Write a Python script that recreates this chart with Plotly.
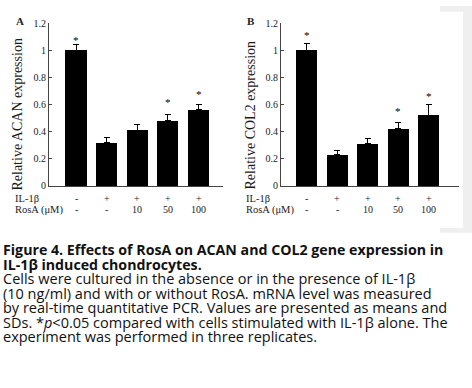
import plotly.graph_objects as go

W, H = 472, 388

# ---- data ----
positions = [1, 2, 3, 4, 5]
il1b_labels = ["-", "+", "+", "+", "+"]
rosa_labels = ["-", "-", "10", "50", "100"]
y_ticks = [0, 0.2, 0.4, 0.6, 0.8, 1.0, 1.2]
y_tick_text = ["0", "0.2", "0.4", "0.6", "0.8", "1", "1.2"]

acan_mean = [1.00, 0.32, 0.41, 0.48, 0.56]
acan_sd = [0.04, 0.035, 0.04, 0.05, 0.04]
acan_star_y = [1.075, None, None, 0.62, 0.68]

col2_mean = [1.00, 0.23, 0.31, 0.42, 0.52]
col2_sd = [0.05, 0.03, 0.04, 0.05, 0.08]
col2_star_y = [1.11, None, None, 0.555, 0.665]

caption_bold = [
    "Figure 4. Effects of RosA on ACAN and COL2 gene expression in",
    "IL-1β induced chondrocytes.",
]
caption_body = [
    "Cells were cultured in the absence or in the presence of IL-1β",
    "(10 ng/ml) and with or without RosA. mRNA level was measured",
    "by real-time quantitative PCR. Values are presented as means and",
    "SDs. *<i>p</i><0.05 compared with cells stimulated with IL-1β alone. The",
    "experiment was performed in three replicates.",
]

SERIF = "Liberation Serif, Times New Roman, serif"
SANS = "Open Sans, Noto Sans, sans-serif"

def px(x):
    return x / W

def py(y):
    return 1 - y / H

fig = go.Figure()

panels = [
    dict(mean=acan_mean, sd=acan_sd, star=acan_star_y, xa="x", ya="y",
         dom=[px(49), px(223)], rng=[0.118, 5.80], width=0.69,
         title="Relative ACAN expression", tx=18, ty=112, letter="A", lx=20, ly=15,
         lab_x=13),
    dict(mean=col2_mean, sd=col2_sd, star=col2_star_y, xa="x2", ya="y2",
         dom=[px(281), px(458.7)], rng=[0.157, 5.98], width=0.70,
         title="Relative COL2 expression", tx=251, ty=113, letter="B", lx=251, ly=15,
         lab_x=244),
]

annotations = []
for i, p in enumerate(panels):
    fig.add_trace(go.Bar(
        x=positions, y=p["mean"], width=p["width"],
        marker=dict(color="black", line=dict(width=0)),
        error_y=dict(type="data", array=p["sd"], arrayminus=[0] * 5,
                     symmetric=False, color="black", thickness=1, width=3),
        xaxis=p["xa"], yaxis=p["ya"], showlegend=False, hoverinfo="skip",
    ))
    for xv, s in zip(positions, p["star"]):
        if s is None:
            continue
        annotations.append(dict(text="*", x=xv, y=s, xref=p["xa"], yref=p["ya"],
                                showarrow=False, xanchor="center", yanchor="middle",
                                font=dict(family=SERIF, size=11, color="#000000")))
    suffix = "" if i == 0 else "2"
    fig.update_layout(**{
        "xaxis" + suffix: dict(domain=p["dom"], range=p["rng"], showticklabels=False,
                               ticks="", showline=True, linecolor="#444", linewidth=1,
                               showgrid=False, zeroline=False, fixedrange=True,
                               anchor="y" + suffix),
        "yaxis" + suffix: dict(domain=[py(185.7), py(17.6)], range=[0, 1.2],
                               tickvals=y_ticks, ticktext=y_tick_text,
                               ticks="inside", ticklen=3, tickcolor="#444",
                               showline=True, linecolor="#444", linewidth=1,
                               showgrid=False, zeroline=False, fixedrange=True,
                               tickfont=dict(family=SERIF, size=10, color="#222"),
                               anchor="x" + suffix),
    })
    annotations.append(dict(text=p["title"], x=px(p["tx"]), y=py(p["ty"]), xref="paper",
                            yref="paper", textangle=-90, showarrow=False,
                            font=dict(family=SERIF, size=14, color="#1a1a1a"),
                            xanchor="center", yanchor="middle"))
    annotations.append(dict(text="<b>" + p["letter"] + "</b>", x=px(p["lx"]), y=py(p["ly"]),
                            xref="paper", yref="paper", showarrow=False,
                            font=dict(family=SERIF, size=11, color="#222"),
                            xanchor="center", yanchor="middle"))
    annotations.append(dict(text="IL-1β", x=px(p["lab_x"]), y=py(199), xref="paper",
                            yref="paper", showarrow=False, xanchor="left", yanchor="middle",
                            font=dict(family=SERIF, size=10.5, color="#222")))
    annotations.append(dict(text="RosA (μM)", x=px(p["lab_x"]), y=py(210), xref="paper",
                            yref="paper", showarrow=False, xanchor="left", yanchor="middle",
                            font=dict(family=SERIF, size=10.5, color="#222")))
    for xv, a, b in zip(positions, il1b_labels, rosa_labels):
        annotations.append(dict(text=a, x=xv, xref=p["xa"], y=py(199), yref="paper",
                                showarrow=False, xanchor="center", yanchor="middle",
                                font=dict(family=SERIF, size=10, color="#222")))
        annotations.append(dict(text=b, x=xv, xref=p["xa"], y=py(210), yref="paper",
                                showarrow=False, xanchor="center", yanchor="middle",
                                font=dict(family=SERIF, size=10, color="#222")))

# caption
line_y = [251.5, 266.5, 281.5, 296.5, 311.5, 326.5, 341.5]
lines = [("<b>" + t + "</b>") for t in caption_bold] + caption_body
for k, (t, yy) in enumerate(zip(lines, line_y)):
    annotations.append(dict(text=t, x=px(1), y=py(yy), xref="paper", yref="paper",
                            showarrow=False, xanchor="left", yanchor="middle",
                            font=dict(family=SANS, size=14.2 if k < 2 else 14.5,
                                      color="#111")))

shapes = [
    dict(type="rect", xref="paper", yref="paper", x0=px(440), x1=px(472), y0=py(234), y1=py(0),
         fillcolor="#efefef", line=dict(width=0), layer="below"),
    dict(type="rect", xref="paper", yref="paper", x0=px(440), x1=px(463), y0=py(229), y1=py(6),
         fillcolor="white", line=dict(width=0), layer="below"),
]

fig.update_layout(width=W, height=H, margin=dict(l=0, r=0, t=0, b=0),
                  paper_bgcolor="white", plot_bgcolor="rgba(0,0,0,0)",
                  annotations=annotations, shapes=shapes, bargap=0,
                  showlegend=False, hovermode=False)

fig.write_html("out.html", config={"displayModeBar": False, "staticPlot": True},
               post_script="document.body.style.margin='0px';document.body.style.overflow='hidden';")
